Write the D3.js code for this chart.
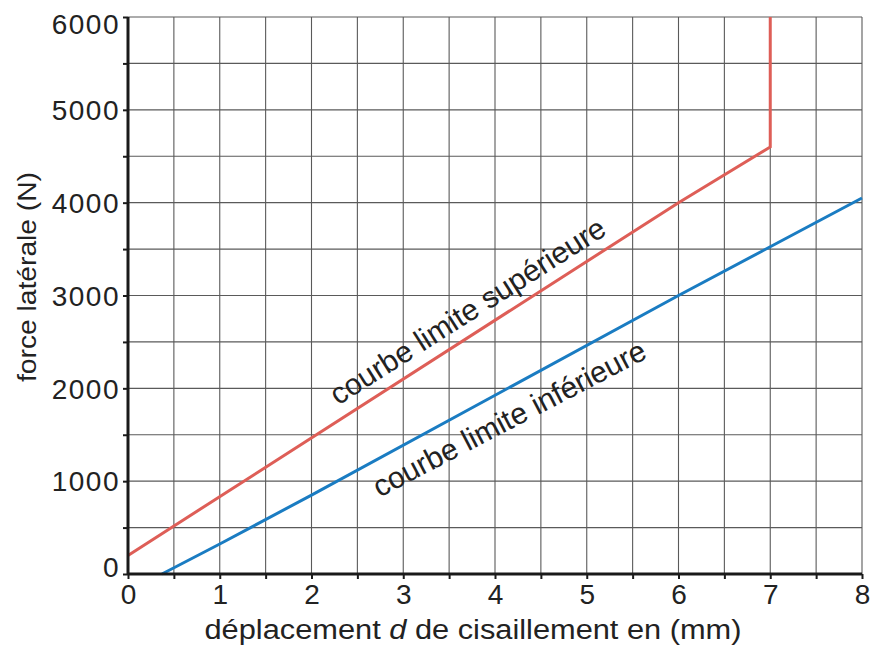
<!DOCTYPE html>
<html>
<head>
<meta charset="utf-8">
<script src="https://cdn.jsdelivr.net/npm/d3@7"></script>
<style>
body{margin:0;background:#fff;}
text{font-family:"Liberation Sans",Arial,Helvetica,sans-serif;fill:#222;}
</style>
</head>
<body>
<svg id="chart" width="874" height="645"></svg>
<script>
// Data
const xTicks = [0,1,2,3,4,5,6,7,8];
const yTicks = [0,1000,2000,3000,4000,5000,6000];
const upperX = [0, 6, 7, 7];
const upperY = [200, 4000, 4600, 6000];
const lowerX = [0.37, 1, 2, 6, 8];
const lowerY = [0, 323, 850, 3000, 4050];
const upperLabel = "courbe limite supérieure";
const lowerLabel = "courbe limite inférieure";
const xTitle = "déplacement d de cisaillement en (mm)";
const yTitle = "force latérale (N)";

const W = 874, H = 645;
const m = {left:128, right:12, top:17, bottom:71};
const svg = d3.select("#chart");
const x = d3.scaleLinear().domain([0,8]).range([m.left, W-m.right]);
const y = d3.scaleLinear().domain([0,6000]).range([H-m.bottom, m.top]);

// grid
const gx = d3.range(0, 8.01, 0.5), gy = d3.range(0, 6001, 500);
svg.append("g").selectAll("line").data(gx).join("line")
  .attr("x1", d=>x(d)).attr("x2", d=>x(d)).attr("y1", y(0)).attr("y2", y(6000))
  .attr("stroke", "#5a5a5a").attr("stroke-width", 1.1);
svg.append("g").selectAll("line").data(gy).join("line")
  .attr("y1", d=>y(d)).attr("y2", d=>y(d)).attr("x1", x(0)).attr("x2", x(8))
  .attr("stroke", "#5a5a5a").attr("stroke-width", 1.1);

// curves
const line = d3.line().x(d=>x(d[0])).y(d=>y(d[1]));
svg.append("path").datum(upperX.map((v,i)=>[v, upperY[i]]))
  .attr("d", line).attr("fill","none").attr("stroke","#de5e57").attr("stroke-width",3);
svg.append("path").datum(lowerX.map((v,i)=>[v, lowerY[i]]))
  .attr("d", line).attr("fill","none").attr("stroke","#1a7cc2").attr("stroke-width",3);

// axes
const xAxis = d3.axisBottom(x).tickValues(gx).tickSize(5).tickFormat(d => xTicks.includes(d) ? d : "");
const yAxis = d3.axisLeft(y).tickValues(gy).tickSize(5).tickFormat(d => yTicks.includes(d) ? d : "");
const ax = svg.append("g").attr("transform", `translate(0,${y(0)})`).call(xAxis);
const ay = svg.append("g").attr("transform", `translate(${x(0)},0)`).call(yAxis);
[ax, ay].forEach(g => {
  g.select(".domain").attr("stroke","#1a1a1a").attr("stroke-width",3);
  g.selectAll(".tick line").attr("stroke","#1a1a1a").attr("stroke-width",2);
  g.selectAll("text").style("font-size","28px").attr("fill","#222")
    .style("font-family",'"Liberation Sans",Arial,sans-serif');
});
ay.selectAll("text").style("letter-spacing","1.5px");
ax.selectAll(".domain").attr("d", `M${x(0)},0H${x(8)}`);
ay.selectAll(".domain").attr("d", `M0,${y(0)}V${y(6000)}`);
ax.selectAll("text").attr("y", 10).attr("dy","0.71em");
ay.selectAll("text").attr("x", -8).attr("dy", d => d===6000 ? "0.58em" : d===0 ? "0.1em" : "0.35em");

// axis titles
svg.append("text").attr("x", 473).attr("y", 639).attr("text-anchor","middle")
  .style("font-size","27px")
  .call(t => {
    t.append("tspan").text("déplacement ");
    t.append("tspan").style("font-style","italic").text("d");
    t.append("tspan").text(" de cisaillement en (mm)");
  })
  .attr("textLength", 537).attr("lengthAdjust","spacingAndGlyphs");
svg.append("text").attr("transform", `translate(36,${(172+382)/2}) rotate(-90)`)
  .attr("text-anchor","middle").style("font-size","26px")
  .attr("textLength", 210).attr("lengthAdjust","spacingAndGlyphs").text(yTitle);

// curve labels (text starts at a point on the curve, shifted vertically)
function curveAt(xs, ys, xv){
  for (let i=0;i<xs.length-1;i++){
    if (xv>=xs[i] && xv<=xs[i+1] && xs[i+1]>xs[i]) {
      return ys[i] + (ys[i+1]-ys[i])*(xv-xs[i])/(xs[i+1]-xs[i]);
    }
  }
  return null;
}
function label(txt, xs, ys, xv, dy, ang){
  const px = x(xv), py = y(curveAt(xs, ys, xv)) + dy;
  svg.append("text")
    .attr("transform", `translate(${px},${py}) rotate(${ang})`)
    .attr("text-anchor","start").style("font-size","30px").text(txt);
}
label(upperLabel, upperX, upperY, 2.29, -15, -32.5);
label(lowerLabel, lowerX, lowerY, 2.74, 39.5, -27.5);
</script>
</body>
</html>
